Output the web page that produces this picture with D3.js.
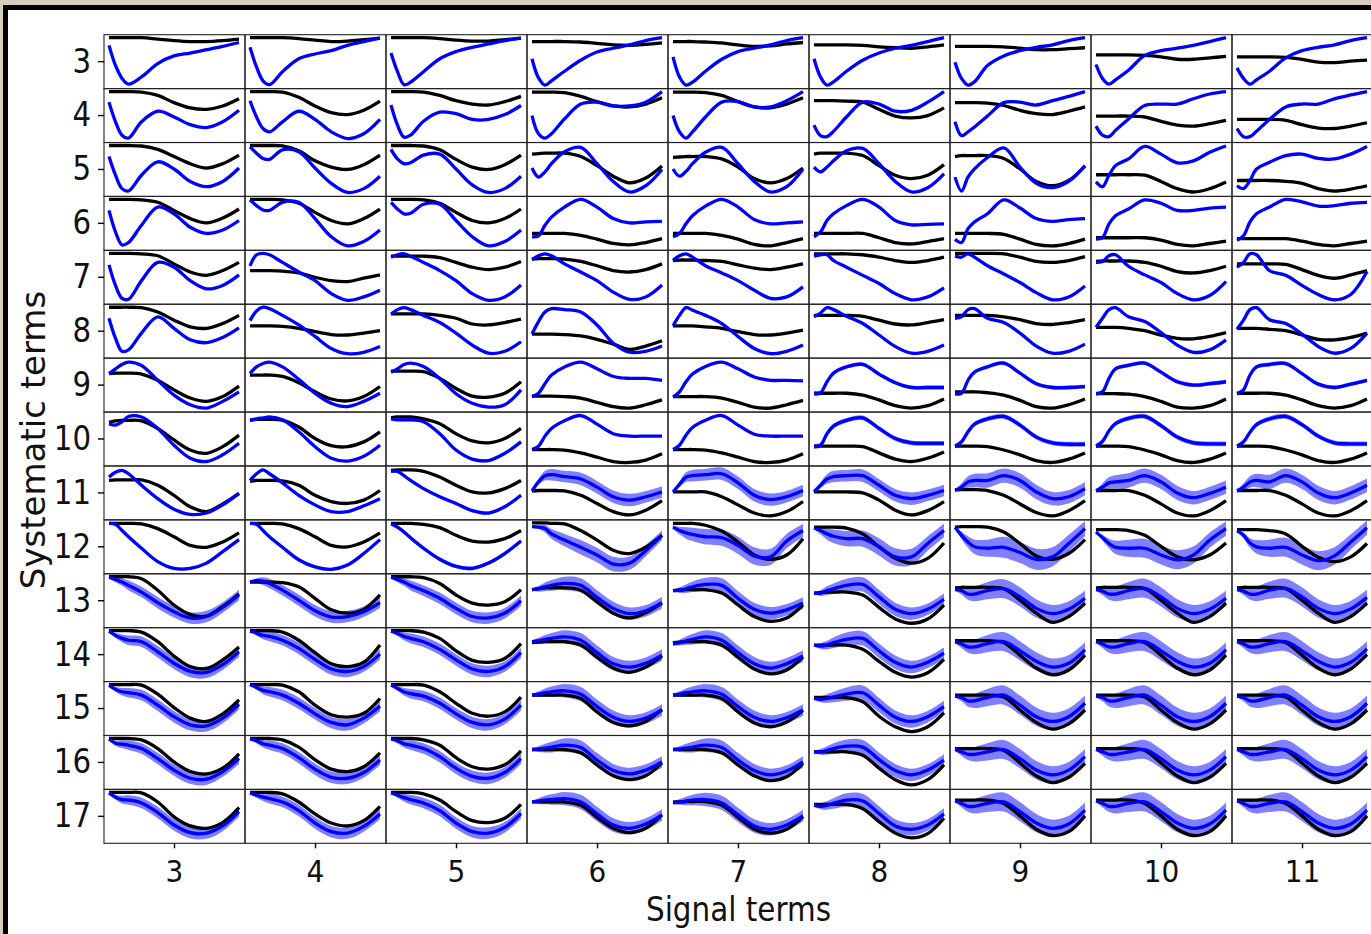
<!DOCTYPE html>
<html><head><meta charset="utf-8">
<script src="https://cdn.jsdelivr.net/npm/d3@7"></script>
<style>
body{margin:0;background:#d6ccbb;}
svg{display:block;font-family:"DejaVu Sans",sans-serif;}
</style>
</head><body>
<svg id="chart" width="1371" height="934"></svg>
<script>
// ---------------- data ----------------
const signalTerms = [3,4,5,6,7,8,9,10,11];
const systematicTerms = [3,4,5,6,7,8,9,10,11,12,13,14,15,16,17];
const samplePositions = [0,0.05,0.1,0.15,0.25,0.375,0.5,0.625,0.75,0.875,1];
const xLabel = "Signal terms";
const yLabel = "Systematic terms";

// black (true) curves: one row per systematic term, one entry per signal term
const truthCurves = [
 [[100,100,100,100,100,97,94,92,92,94,97],[100,100,100,100,100,98,95,92,93,96,99],[100,100,100,100,100,98,95,93,93,96,99],[92,92,92,92,92,91,88,85,84,86,89],[92,92,92,92,91,89,85,82,83,87,90],[85,85,85,85,85,84,81,79,78,81,85],[82,82,82,82,82,81,78,75,75,77,79],[64,64,64,64,64,63,60,55,55,58,61],[60,60,60,60,60,59,55,49,48,51,53]],
 [[100,100,100,100,99,92,77,66,63,70,85],[100,100,100,100,99,88,70,56,52,61,80],[100,100,100,100,99,92,81,74,72,79,90],[99,99,99,99,98,90,79,70,68,74,87],[99,99,99,99,98,92,79,68,66,74,87],[81,81,81,81,80,78,63,49,45,50,66],[77,77,77,77,76,71,61,54,52,59,68],[49,49,49,49,49,47,38,30,28,33,40],[42,42,42,42,42,40,31,24,23,28,35]],
 [[100,100,100,100,99,92,77,62,53,62,80],[100,100,100,100,99,89,68,55,50,60,80],[100,100,100,100,99,91,71,55,50,60,80],[82,83,84,84,84,77,58,36,22,32,57],[75,76,77,77,77,72,55,31,22,31,53],[82,84,84,84,84,79,58,38,31,38,60],[77,79,79,79,79,73,51,25,16,27,57],[39,39,39,39,39,38,25,10,3,10,24],[27,27,27,27,27,25,21,10,5,9,16]],
 [[100,100,100,100,99,94,77,60,51,61,80],[100,100,100,100,99,92,73,56,49,60,80],[100,100,100,100,99,92,73,56,51,60,80],[29,29,29,29,29,25,17,8,5,10,18],[29,29,29,29,29,25,17,6,3,10,18],[29,29,29,29,29,29,20,10,7,12,18],[29,29,29,29,29,27,17,6,3,8,17],[20,20,20,20,20,20,15,6,3,8,13],[18,18,18,18,18,18,13,6,3,8,13]],
 [[100,100,100,100,99,95,78,61,54,64,81],[64,64,64,64,63,59,50,43,41,48,55],[94,94,94,94,94,91,81,71,66,71,83],[88,89,89,89,88,83,74,64,61,66,78],[85,86,86,86,85,83,76,69,66,71,78],[99,99,99,99,99,97,92,85,81,85,92],[100,100,100,100,100,99,92,83,81,85,93],[83,84,84,84,84,81,73,62,59,64,73],[78,78,78,78,78,77,66,54,48,55,64]],
 [[100,100,100,100,99,90,73,59,56,66,83],[61,61,61,61,60,56,49,43,42,46,51],[86,86,86,86,86,83,77,65,63,68,75],[44,44,44,44,43,40,33,23,12,19,30],[61,61,61,61,59,56,49,43,42,46,52],[83,83,83,83,83,81,73,65,63,68,74],[83,83,83,83,83,80,74,66,64,68,74],[58,58,58,58,56,51,42,35,34,39,47],[56,56,56,56,54,51,42,33,32,37,46]],
 [[74,75,75,75,73,60,40,23,16,26,48],[71,71,71,71,68,55,36,21,17,26,47],[79,79,79,79,78,64,43,27,25,33,57],[27,27,27,27,26,23,14,5,2,9,19],[26,26,26,26,26,23,14,4,2,9,18],[33,33,33,33,33,29,19,7,2,7,21],[36,36,36,36,34,29,18,5,2,9,21],[32,32,32,32,31,26,16,4,2,7,21],[33,33,33,33,33,29,19,7,2,7,21]],
 [[85,88,89,89,88,72,48,27,20,34,58],[89,91,91,91,89,75,51,36,34,44,65],[94,96,96,96,92,82,61,46,42,51,72],[28,28,28,28,27,21,12,3,1,6,19],[28,28,28,28,27,21,12,3,1,6,19],[35,35,35,35,35,34,21,8,3,10,23],[35,35,35,35,34,27,17,5,1,8,21],[35,35,35,35,34,27,17,5,1,8,21],[35,35,35,35,34,27,17,5,1,8,21]],
 [[76,77,77,77,77,66,45,21,11,27,49],[74,76,76,76,75,66,45,32,28,35,55],[97,98,98,98,95,83,66,52,50,59,76],[54,55,55,55,54,45,28,11,4,14,34],[52,52,52,52,52,42,25,8,2,11,32],[52,52,52,52,52,50,35,14,4,13,32],[57,57,57,57,55,45,27,9,2,13,34],[55,55,55,55,55,45,27,8,2,13,34],[55,55,55,55,55,45,27,8,2,13,34]],
 [[99,99,99,99,98,88,71,53,49,60,79],[99,99,99,99,98,88,71,53,50,60,79],[99,99,99,99,97,90,74,62,60,67,84],[100,100,100,99,98,84,64,43,36,49,74],[99,99,99,99,95,83,60,33,24,33,67],[91,91,91,91,89,77,50,26,16,26,58],[91,92,92,92,91,81,57,31,24,36,65],[86,86,86,86,84,74,51,29,23,33,58],[86,86,86,86,84,77,51,28,19,29,57]],
 [[100,100,100,100,96,72,41,21,18,38,64],[89,89,89,89,88,79,55,31,24,32,62],[100,100,100,100,98,86,62,45,41,48,73],[73,75,77,77,77,72,48,24,14,25,45],[71,72,73,73,73,66,41,17,7,14,41],[66,67,68,68,68,62,36,12,3,12,41],[77,78,78,78,78,75,51,24,5,17,45],[77,78,78,78,78,75,51,24,5,17,45],[77,78,78,78,78,75,51,24,5,17,45]],
 [[100,100,100,100,97,77,47,25,21,39,66],[100,100,100,100,97,80,54,31,25,34,70],[100,100,100,100,97,84,58,38,34,42,73],[75,76,77,77,77,70,45,22,13,24,47],[75,76,77,77,77,70,45,20,10,18,45],[70,70,70,70,70,61,36,13,3,12,40],[79,79,79,79,79,75,49,22,8,18,49],[79,79,79,79,79,75,49,22,8,18,49],[79,79,79,79,79,75,49,22,8,20,50]],
 [[100,100,100,100,99,80,52,30,23,39,68],[100,100,100,100,99,85,57,37,32,40,71],[100,100,100,100,99,85,61,40,34,43,74],[78,78,78,78,78,71,43,21,14,23,48],[78,78,78,78,78,71,43,20,12,22,46],[73,73,73,73,73,64,34,12,2,12,41],[78,78,78,78,78,74,47,21,7,18,47],[78,78,78,78,78,74,47,21,7,18,47],[78,78,78,78,78,74,47,21,7,18,47]],
 [[100,100,100,100,97,79,51,31,26,38,68],[100,100,100,100,97,82,56,36,31,41,70],[100,100,100,100,97,86,60,41,36,45,74],[77,77,77,77,77,70,45,22,14,22,49],[77,77,77,77,77,70,45,22,12,20,48],[72,72,72,72,72,65,38,14,3,14,45],[79,79,79,79,79,75,49,22,8,19,48],[79,79,79,79,79,75,49,22,8,19,48],[79,79,79,79,79,75,49,22,8,19,48]],
 [[100,100,100,100,99,80,49,30,25,37,68],[100,100,100,100,97,80,55,36,30,41,71],[100,100,100,100,97,84,60,41,37,46,75],[80,80,80,80,80,73,48,25,16,25,53],[80,80,81,81,81,73,48,23,15,23,49],[75,75,75,75,75,66,39,15,5,14,46],[84,84,84,84,84,77,51,23,10,18,51],[84,84,84,84,84,77,51,23,10,18,51],[84,84,84,84,84,77,51,23,10,18,51]]
];

// blue (fitted) curves
const fitCurves = [
 [[84,42,15,3,18,46,62,68,75,82,90],[80,39,10,2,29,56,66,73,84,92,99],[68,29,2,7,29,56,71,80,87,94,99],[56,16,1,10,30,53,70,78,85,94,100],[60,18,1,7,30,55,71,78,85,94,100],[56,18,1,8,30,53,68,78,84,92,100],[49,15,1,8,42,62,73,80,85,94,100],[44,15,3,12,32,63,73,78,84,92,100],[37,15,3,12,30,58,73,80,85,94,100]],
 [[78,37,9,3,37,59,47,31,25,37,61],[81,47,23,16,37,59,42,16,2,12,42],[72,30,5,9,38,57,54,42,42,52,71],[50,12,3,12,43,74,78,70,70,78,100],[50,16,3,16,47,78,79,68,68,81,100],[30,8,6,17,47,78,74,59,61,78,100],[37,8,16,26,49,77,78,72,81,90,100],[28,9,6,19,43,71,74,74,85,95,100],[23,6,6,17,42,68,74,74,85,93,100]],
 [[77,38,10,5,38,66,51,25,14,25,53],[97,84,73,71,91,87,53,21,2,10,36],[92,72,62,64,80,82,51,18,2,10,36],[53,34,45,62,87,96,62,25,3,16,50],[51,36,46,62,86,96,62,25,3,14,51],[55,45,55,68,89,94,62,25,3,12,41],[34,5,34,51,75,95,55,21,12,25,58],[24,14,38,58,72,98,82,64,68,86,99],[16,10,27,51,65,79,82,73,72,82,98]],
 [[77,32,5,10,46,84,70,42,29,36,56],[99,87,78,77,94,94,60,22,3,12,36],[94,80,70,71,90,90,56,22,3,12,36],[22,24,46,63,84,100,84,60,51,53,54],[22,29,49,66,86,100,84,58,49,51,53],[22,32,56,70,87,100,84,56,47,48,49],[17,10,39,53,70,99,82,60,54,58,60],[17,20,49,66,80,99,92,77,77,82,84],[15,24,53,70,84,100,95,86,87,92,94]],
 [[76,33,6,4,43,81,71,43,26,33,55],[74,97,100,97,81,61,43,16,2,9,23],[92,97,99,94,81,64,43,16,2,9,34],[87,95,99,95,78,61,43,19,4,9,34],[85,95,99,92,74,59,43,23,6,9,30],[94,97,97,85,71,54,37,16,3,9,28],[94,92,99,92,74,57,39,18,3,9,32],[81,83,95,97,73,55,39,16,3,12,41],[71,81,99,97,64,54,33,14,3,14,62]],
 [[77,35,8,11,46,80,56,32,26,37,57],[72,92,100,97,83,63,39,14,3,6,18],[86,95,99,95,83,68,46,21,4,8,28],[44,70,90,97,95,90,63,25,6,8,19],[61,83,99,94,83,66,39,14,3,8,21],[80,88,99,95,81,66,42,18,4,8,21],[77,80,95,97,77,68,46,19,4,8,23],[58,77,95,99,80,70,47,21,6,11,32],[54,73,95,99,74,66,44,18,4,14,46]],
 [[74,84,93,98,91,60,29,9,2,16,36],[74,88,95,98,88,62,33,12,5,16,33],[77,84,93,96,89,64,32,12,4,9,40],[26,33,53,71,88,98,84,68,64,64,60],[25,36,57,73,89,98,84,67,60,60,59],[32,34,57,75,88,93,73,55,45,45,45],[32,33,60,77,88,96,75,53,45,45,47],[32,36,64,84,91,96,77,57,50,53,57],[32,40,71,88,93,95,74,52,45,52,60]],
 [[82,79,86,97,96,72,37,10,3,17,41],[89,92,94,96,90,65,34,10,4,14,37],[92,90,90,90,86,61,27,8,5,20,44],[28,35,56,72,88,99,81,61,56,56,56],[28,37,58,74,89,99,79,60,56,56,56],[34,37,61,77,89,94,72,51,42,41,41],[35,44,65,81,92,97,79,54,42,39,39],[35,45,67,82,93,97,78,54,42,40,40],[35,44,64,80,92,97,80,56,42,40,40]],
 [[83,93,97,90,66,38,16,5,8,25,49],[76,90,98,90,71,45,25,11,11,23,38],[95,95,86,76,59,42,28,13,8,21,45],[54,73,86,88,84,79,62,42,35,42,52],[52,68,83,86,88,90,71,45,36,42,55],[52,66,79,84,86,86,66,45,38,45,55],[55,62,73,76,76,86,76,52,38,42,59],[54,62,71,73,76,86,73,50,40,49,62],[54,62,73,76,73,86,73,50,40,50,66]],
 [[99,97,84,71,47,19,5,5,16,40,65],[99,97,84,71,49,23,8,3,12,36,65],[98,91,81,69,47,24,9,5,16,36,62],[92,91,88,77,64,49,33,14,16,42,74],[91,84,79,76,71,69,53,31,29,62,84],[90,84,77,72,67,67,50,29,29,57,84],[91,74,60,50,47,49,38,24,29,57,88],[81,69,57,49,47,47,33,23,33,64,88],[84,74,58,50,47,49,33,21,31,60,90]],
 [[99,94,89,82,68,46,27,14,17,36,62],[89,92,91,86,72,51,29,16,17,27,46],[99,94,89,82,71,55,34,17,14,24,50],[73,75,79,82,86,82,57,34,23,29,46],[71,72,75,79,84,82,55,32,24,31,45],[66,66,71,75,82,84,58,32,23,32,53],[73,71,64,64,71,75,58,34,23,32,55],[73,70,64,64,71,76,58,34,23,32,55],[73,70,64,64,72,76,58,34,23,33,57]],
 [[99,90,84,80,77,56,32,15,13,29,56],[99,95,90,88,80,63,40,20,15,25,51],[99,94,88,84,77,61,39,20,15,25,54],[77,79,82,84,87,80,54,31,24,32,49],[72,75,79,82,87,80,54,31,22,31,47],[70,68,70,75,82,84,58,34,24,34,53],[77,72,66,66,73,77,58,36,24,32,60],[77,72,66,66,73,77,58,36,24,32,60],[77,72,66,66,73,77,58,36,24,34,62]],
 [[99,90,85,83,78,57,33,16,14,30,59],[100,94,88,85,78,61,39,21,16,30,55],[99,92,85,81,76,61,39,21,16,28,57],[78,80,83,85,87,80,54,32,23,30,47],[78,80,83,85,87,80,54,32,23,31,47],[71,69,71,74,80,83,57,32,23,33,54],[76,73,66,66,73,78,57,33,23,33,61],[76,73,66,66,73,78,57,33,23,33,61],[76,73,66,66,73,78,57,33,23,33,61]],
 [[99,90,88,86,79,58,34,17,15,31,58],[99,95,89,86,79,60,36,19,17,29,55],[99,95,89,86,79,62,38,21,17,29,58],[77,78,80,82,86,81,55,33,26,34,51],[77,78,80,82,86,81,55,33,24,32,51],[72,72,75,79,84,82,56,33,24,34,55],[77,72,67,67,72,77,58,34,24,34,62],[77,72,67,67,72,77,58,34,24,34,62],[77,72,67,67,72,77,58,34,24,34,62]],
 [[99,90,85,84,78,58,32,16,15,30,60],[99,94,90,87,80,62,36,18,15,29,55],[99,94,89,85,78,62,36,18,15,27,56],[80,82,84,85,87,80,55,32,25,34,53],[78,80,82,84,85,78,53,30,23,32,51],[73,71,73,77,84,82,56,30,23,32,55],[82,77,71,71,77,80,60,36,25,34,63],[82,77,71,71,77,80,60,36,25,34,63],[82,77,71,71,77,80,60,36,25,34,63]]
];

// half-width of the blue uncertainty band (number = constant, array = per sample)
const band11a = [2,6,10,12,12,13,13,13,13,12,12];
const band11b = [2,8,12,14,15,15,15,15,14,14,14];
const band12a = [2,4,8,10,13,15,15,15,14,12,10];
const band12b = [3,8,12,14,16,17,18,18,17,15,14];
const band12c = [0,8,12,15,18,22,22,22,20,18,16];
const band12d = [0,6,10,14,18,20,20,20,18,16,15];
const bandNarrow = [0,5,8,10,11,12,12,12,12,11,11];
const bandMid = [2,6,9,11,14,15,15,14,13,12,12];
const bandWide = [2,8,12,15,18,20,20,19,18,17,16];
const fitBands = [
 [0,0,0,0,0,0,0,0,0],
 [0,0,0,0,0,0,0,0,0],
 [0,1,2,2,2,2,2,2,2],
 [0,1,2,1,1,1,1,1,1],
 [0,1,1,1,1,1,1,2,3],
 [0,1,2,2,2,2,2,2,3],
 [0,2,2,2,2,4,4,4,4],
 [0,2,3,2,2,5,5,5,5],
 [2,2,3,band11a,band11a,band11a,band11b,band11b,band11b],
 [3,3,4,band12a,band12b,band12b,band12c,band12d,band12d],
 [bandNarrow,bandNarrow,bandNarrow,bandMid,bandMid,bandMid,bandWide,bandWide,bandWide],
 [bandNarrow,bandNarrow,bandNarrow,bandMid,bandMid,bandMid,bandWide,bandWide,bandWide],
 [bandNarrow,bandNarrow,bandNarrow,bandMid,bandMid,bandMid,bandWide,bandWide,bandWide],
 [bandNarrow,bandNarrow,bandNarrow,bandMid,bandMid,bandMid,bandWide,bandWide,bandWide],
 [bandNarrow,bandNarrow,bandNarrow,bandMid,bandMid,bandMid,bandWide,bandWide,bandWide]
];

// ---------------- drawing ----------------
const W = 1371, H = 934;
const svg = d3.select("#chart");
svg.append("rect").attr("width", W).attr("height", H).attr("fill", "#d6ccbb");
svg.append("rect").attr("x", 3).attr("y", 5).attr("width", W + 10).attr("height", H + 10).attr("fill", "#000");
svg.append("rect").attr("x", 8).attr("y", 10).attr("width", W + 10).attr("height", H + 10).attr("fill", "#fff");

const col = d3.scaleBand().domain(signalTerms).range([104, 1373]).padding(0);
const row = d3.scaleBand().domain(systematicTerms).range([34.7, 843.3]).padding(0);
const cw = col.bandwidth(), ch = row.bandwidth();
const xIn = d3.scaleLinear().domain([0, 1]).range([5, cw - 6]);
const yIn = d3.scaleLinear().domain([0, 100]).range([ch - 3, 3]);

svg.append("defs").append("clipPath").attr("id", "cellclip")
  .append("rect").attr("x", 0).attr("y", 0).attr("width", cw).attr("height", ch);

const curve = d3.curveCatmullRom.alpha(0.5);
const lineTruth = d3.line().x(d => xIn(d.f)).y(d => yIn(d.k)).curve(curve);
const lineFit = d3.line().x(d => xIn(d.f)).y(d => yIn(d.b)).curve(curve);
const areaFit = d3.area().x(d => xIn(d.f)).y0(d => yIn(d.b - d.w)).y1(d => yIn(d.b + d.w)).curve(curve);

systematicTerms.forEach((s, i) => {
  signalTerms.forEach((t, j) => {
    const bw = fitBands[i][j];
    const pts = samplePositions.map((f, k) => ({
      f, k: truthCurves[i][j][k], b: fitCurves[i][j][k],
      w: Array.isArray(bw) ? bw[k] : bw
    }));
    const g = svg.append("g").attr("transform", `translate(${col(t)},${row(s)})`);
    const inner = g.append("g").attr("clip-path", "url(#cellclip)");
    if (pts.some(p => p.w > 0)) {
      inner.append("path").attr("d", areaFit(pts)).attr("fill", "#0000ff").attr("fill-opacity", 0.5).attr("stroke", "none");
    }
    inner.append("path").attr("d", lineTruth(pts)).attr("fill", "none").attr("stroke", "#000").attr("stroke-width", 3.3).attr("stroke-linejoin", "round");
    inner.append("path").attr("d", lineFit(pts)).attr("fill", "none").attr("stroke", "#0000ff").attr("stroke-width", 3.3).attr("stroke-linejoin", "round");
    g.append("rect").attr("x", 0).attr("y", 0).attr("width", cw).attr("height", ch)
      .attr("fill", "none").attr("stroke", "#222").attr("stroke-width", 1.1);
  });
});

// axes
const yAxis = svg.append("g").attr("transform", "translate(104,0)")
  .call(d3.axisLeft(row).tickSize(6).tickPadding(7));
yAxis.select(".domain").remove();
yAxis.selectAll(".tick line").attr("stroke", "#000").attr("stroke-width", 1.4);
yAxis.selectAll(".tick text").attr("font-size", 34).attr("fill", "#111")
  .attr("font-family", "DejaVu Sans").each(function () {
    const n = this.getComputedTextLength();
    d3.select(this).attr("textLength", n * 0.86).attr("lengthAdjust", "spacingAndGlyphs");
  });

const xAxis = svg.append("g").attr("transform", "translate(0,843.3)")
  .call(d3.axisBottom(col).tickSize(5).tickPadding(12));
xAxis.select(".domain").remove();
xAxis.selectAll(".tick line").attr("stroke", "#000").attr("stroke-width", 1.4);
xAxis.selectAll(".tick text").attr("font-size", 31).attr("fill", "#111").attr("font-family", "DejaVu Sans")
  .each(function () {
    const n = this.getComputedTextLength();
    d3.select(this).attr("textLength", n * 0.9).attr("lengthAdjust", "spacingAndGlyphs");
  });

const xl = svg.append("text").attr("x", 738.5).attr("y", 921).attr("text-anchor", "middle")
  .attr("font-size", 34).attr("fill", "#111").text(xLabel);
xl.attr("textLength", 185).attr("lengthAdjust", "spacingAndGlyphs");

svg.append("text").attr("transform", "translate(45,440) rotate(-90)").attr("text-anchor", "middle")
  .attr("font-size", 34).attr("fill", "#111").text(yLabel);
</script>
</body></html>
